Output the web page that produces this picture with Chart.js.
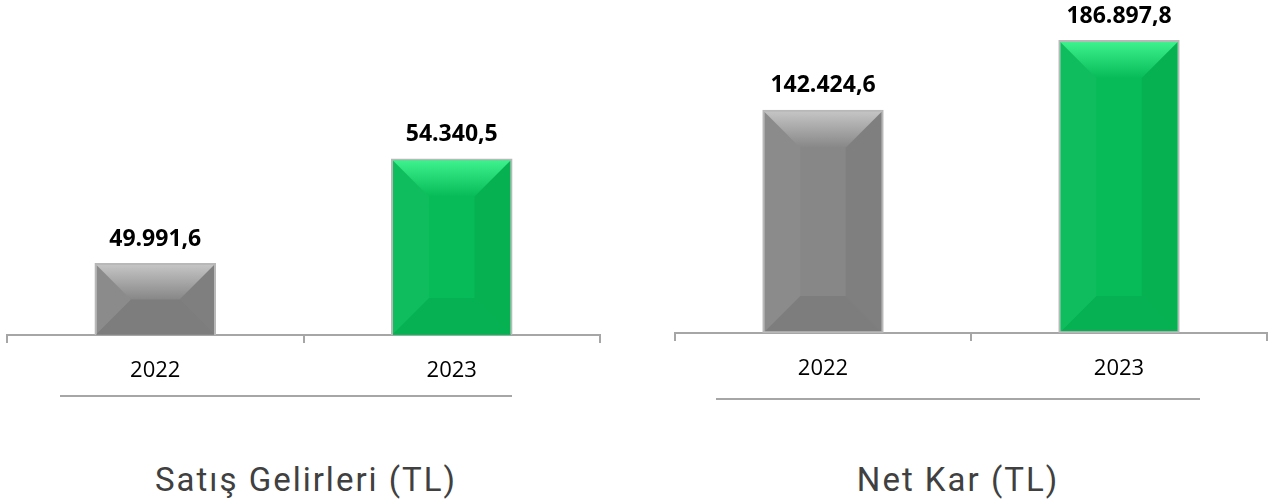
<!DOCTYPE html>
<html>
<head>
<meta charset="utf-8">
<script src="https://cdn.jsdelivr.net/npm/chart.js@4.4.1/dist/chart.umd.min.js"></script>
<style>
  html, body { margin: 0; padding: 0; background: #fff; }
  body { width: 1278px; height: 504px; position: relative; overflow: hidden; }
  .box { position: absolute; height: 420px; }
  .rule { position: absolute; height: 0; border-top: 2px solid #a6a6a6; }
  .title { position: absolute; top: 459px; height: 42px; line-height: 42px; text-align: center;
           font-family: Roboto, "Noto Sans", sans-serif; font-size: 33px; letter-spacing: 2px; color: #404040; }
</style>
</head>
<body>
<div class="box" style="left:0; top:0; width:640px;"><canvas id="salesChart"></canvas></div>
<div class="box" style="left:640px; top:-2px; width:638px;"><canvas id="profitChart"></canvas></div>
<div class="rule" style="left:60px; top:395px; width:452px;"></div>
<div class="rule" style="left:716px; top:398px; width:484px;"></div>
<div class="title" style="left:0; width:612px;">Satış Gelirleri (TL)</div>
<div class="title" style="left:660px; width:596px;">Net Kar (TL)</div>
<script>
// Two side-by-side bar charts: sales revenue and net profit, 2022 vs 2023 (TL).

const years = ['2022', '2023'];
const salesValues = [49991.6, 54340.5];
const profitValues = [142424.6, 186897.8];

const barColors = ['#878787', '#07bb58'];
const bevelShades = [
    { top: '#c4c4c4', right: 'rgba(0,0,0,0.06)', bottom: 'rgba(0,0,0,0.07)', left: 'rgba(255,255,255,0.04)' },
    { top: '#3df28d', right: 'rgba(0,60,20,0.07)', bottom: 'rgba(0,60,20,0.08)', left: 'rgba(255,255,255,0.04)' }
];

// 49991.6 -> "49.991,6"
function formatTR(v) {
    const [intPart, dec] = v.toFixed(1).split('.');
    return intPart.replace(/\B(?=(\d{3})+(?!\d))/g, '.') + ',' + dec;
}

function poly(ctx, pts, fill) {
    ctx.beginPath();
    ctx.moveTo(pts[0][0], pts[0][1]);
    for (let i = 1; i < pts.length; i++) ctx.lineTo(pts[i][0], pts[i][1]);
    ctx.closePath();
    ctx.fillStyle = fill;
    ctx.fill();
}

// fake bevel (like Office "angle" bevel) drawn over each bar element
const bevelPlugin = {
    id: 'bevel',
    afterDatasetsDraw(chart) {
        const ctx = chart.ctx;
        const bottom = chart.chartArea.bottom;
        chart.getDatasetMeta(0).data.forEach((bar, i) => {
            const p = bar.getProps(['x', 'y', 'base', 'width'], true);
            const l = p.x - p.width / 2 + 2, r = p.x + p.width / 2 - 2;
            const t = p.y + 2, b = Math.min(p.base, bottom) - 1;
            const d = Math.min(36, (r - l) / 2, (b - t) / 2);
            const s = bevelShades[i];
            ctx.save();
            const g = ctx.createLinearGradient(0, t, 0, t + d);
            g.addColorStop(0, s.top);
            g.addColorStop(1, barColors[i]);
            poly(ctx, [[l, t], [r, t], [r - d, t + d], [l + d, t + d]], g);
            poly(ctx, [[l, t], [l + d, t + d], [l + d, b - d], [l, b]], s.left);
            poly(ctx, [[r, t], [r, b], [r - d, b - d], [r - d, t + d]], s.right);
            poly(ctx, [[l, b], [l + d, b - d], [r - d, b - d], [r, b]], s.bottom);
            ctx.restore();
        });
    }
};

const valueLabels = {
    id: 'valueLabels',
    afterDatasetsDraw(chart) {
        const ctx = chart.ctx;
        const ds = chart.data.datasets[0];
        ctx.save();
        ctx.font = 'bold 23px "Open Sans", sans-serif';
        ctx.fillStyle = '#000';
        ctx.textAlign = 'center';
        ctx.textBaseline = 'middle';
        chart.getDatasetMeta(0).data.forEach((bar, i) => {
            ctx.fillText(formatTR(ds.data[i]), bar.x, bar.y - 24);
        });
        ctx.restore();
    }
};

function makeChart(id, values, yMin, yMax, pad) {
    return new Chart(document.getElementById(id), {
        type: 'bar',
        data: {
            labels: years,
            datasets: [{
                data: values,
                backgroundColor: barColors,
                borderColor: '#b8b8b8',
                borderWidth: 2,
                borderSkipped: false,
                categoryPercentage: 1,
                barPercentage: 0.41
            }]
        },
        options: {
            responsive: true,
            maintainAspectRatio: false,
            animation: false,
            events: [],
            layout: { padding: pad },
            plugins: { legend: { display: false }, tooltip: { enabled: false } },
            scales: {
                y: { display: false, min: yMin, max: yMax },
                x: {
                    afterFit: (s) => { s.height = 50; },
                    border: { display: true, color: '#a6a6a6', width: 2 },
                    grid: { drawOnChartArea: false, tickLength: 8, color: '#a6a6a6', lineWidth: 2 },
                    ticks: { color: '#000', padding: 15, font: { family: '"Open Sans", sans-serif', size: 22 } }
                }
            }
        },
        plugins: [bevelPlugin, valueLabels]
    });
}

makeChart('salesChart', salesValues, 47000, 60100, { left: 7, right: 40, top: 20, bottom: 35 });
makeChart('profitChart', profitValues, 0, 201000, { left: 35, right: 11, top: 20, bottom: 35 });
</script>
</body>
</html>
